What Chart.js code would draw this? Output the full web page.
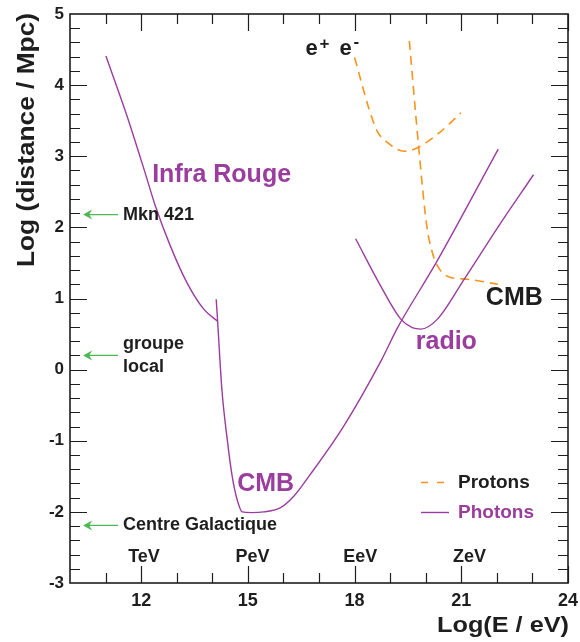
<!DOCTYPE html>
<html>
<head>
<meta charset="utf-8">
<script src="https://cdn.jsdelivr.net/npm/chart.js@4.4.1/dist/chart.umd.min.js"></script>
<style>
  html, body { margin: 0; padding: 0; background: #fff; }
  canvas { display: block; }
</style>
</head>
<body>
<canvas id="horizon" width="580" height="642"></canvas>
<script>
// Log(E/eV) on x, Log(distance/Mpc) on y
const xTicks = [12, 15, 18, 21, 24];
const energyUnits = ['TeV', 'PeV', 'EeV', 'ZeV'];
const energyUnitPos = [12.08, 15.13, 18.16, 21.23];

// photons on the infra-red background
const irX = [11.01, 11.60, 12.11, 12.40, 12.82, 13.29, 13.76, 14.15];
const irY = [4.41, 3.57, 2.77, 2.30, 1.74, 1.22, 0.85, 0.68];

// photons on the CMB
const cmbX = [14.11, 14.15, 14.27, 14.42, 14.56, 14.70, 14.84, 15.10, 15.45, 15.92, 16.29, 16.76, 17.70, 18.74, 19.21, 20.29, 22.04];
const cmbY = [0.99, 0.68, -0.28, -0.98, -1.50, -1.83, -2.00, -2.01, -2.00, -1.94, -1.78, -1.47, -0.79, 0.12, 0.59, 1.50, 3.10];

// photons on the radio background
const radioX = [18.03, 18.74, 19.30, 19.62, 19.86, 20.33, 21.08, 22.00, 23.03];
const radioY = [1.84, 1.17, 0.71, 0.59, 0.57, 0.71, 1.27, 1.98, 2.74];

// protons: pair production (e+ e-)
const pairX = [18.00, 18.17, 18.41, 18.64, 18.93, 19.39, 19.77, 20.43, 20.99];
const pairY = [4.39, 4.08, 3.66, 3.35, 3.19, 3.07, 3.12, 3.35, 3.61];

// protons: pion production on the CMB
const gzkX = [19.54, 19.80, 20.03, 20.19, 20.33, 20.62, 21.18, 22.03];
const gzkY = [4.62, 3.14, 2.02, 1.64, 1.46, 1.31, 1.27, 1.20];

// sources marked by arrows on the left
const sourceNames = [['Mkn 421'], ['groupe', 'local'], ['Centre Galactique']];
const sourceDist = [2.18, 0.20, -2.19];

const PURPLE = '#9a3d9e';
const ORANGE = '#f7941d';
const GREEN = '#4cb851';
const INK = '#1e1e1e';
const FONT = '"Liberation Sans", Arial, sans-serif';

function pts(xs, ys) {
  return xs.map((x, i) => ({ x: x, y: ys[i] }));
}

function photonSet(xs, ys) {
  return {
    data: pts(xs, ys),
    showLine: true,
    borderColor: PURPLE,
    borderWidth: 1.4,
    pointRadius: 0,
    cubicInterpolationMode: 'monotone'
  };
}

function protonSet(xs, ys) {
  return {
    data: pts(xs, ys),
    showLine: true,
    borderColor: ORANGE,
    borderWidth: 1.6,
    borderDash: [9, 6],
    pointRadius: 0,
    cubicInterpolationMode: 'monotone'
  };
}

function label(ctx, text, x, y, size, color, align) {
  ctx.font = 'bold ' + size + 'px ' + FONT;
  ctx.fillStyle = color;
  ctx.textAlign = align || 'left';
  ctx.textBaseline = 'middle';
  ctx.fillText(text, x, y);
}

// bold text squeezed or stretched along its baseline to a given length
function stretched(ctx, text, size, length) {
  ctx.font = 'bold ' + size + 'px ' + FONT;
  const w = ctx.measureText(text).width;
  ctx.scale(length / w, 1);
  ctx.fillStyle = INK;
  ctx.textAlign = 'right';
  ctx.textBaseline = 'middle';
  ctx.fillText(text, 0, 0);
}

// frame with inward ticks, annotations, arrows, legend and axis titles
const decorations = {
  id: 'decorations',
  afterDraw(chart) {
    const ctx = chart.ctx;
    const xs = chart.scales.x, ys = chart.scales.y;
    const a = chart.chartArea;
    ctx.save();

    ctx.strokeStyle = INK;
    ctx.lineWidth = 1.2;
    ctx.beginPath();
    for (let v = 11; v <= 24; v++) {
      const px = Math.round(xs.getPixelForValue(v)) + 0.5;
      const len = v % 3 === 0 ? 17 : 10;
      ctx.moveTo(px, a.bottom); ctx.lineTo(px, a.bottom - len);
      ctx.moveTo(px, a.top); ctx.lineTo(px, a.top + len);
    }
    for (let i = 1; i < 40; i++) {
      const v = -3 + i * 0.2;
      const py = Math.round(ys.getPixelForValue(v)) + 0.5;
      const len = i % 5 === 0 ? 17 : 10;
      ctx.moveTo(a.left, py); ctx.lineTo(a.left + len, py);
      ctx.moveTo(a.right, py); ctx.lineTo(a.right - len, py);
    }
    ctx.stroke();

    ctx.lineWidth = 1.6;
    ctx.strokeRect(a.left, a.top, a.right - a.left, a.bottom - a.top);

    // energy units above the axis
    energyUnits.forEach((u, i) => {
      label(ctx, u, xs.getPixelForValue(energyUnitPos[i]), ys.getPixelForValue(-2.63), 18, INK, 'center');
    });

    // arrows and source names
    const tipX = xs.getPixelForValue(10.37), tailX = xs.getPixelForValue(11.35);
    const textX = xs.getPixelForValue(11.49);
    sourceNames.forEach((lines, i) => {
      const py = ys.getPixelForValue(sourceDist[i]);
      ctx.strokeStyle = GREEN;
      ctx.fillStyle = GREEN;
      ctx.lineWidth = 1.3;
      ctx.beginPath();
      ctx.moveTo(tipX + 2, py); ctx.lineTo(tailX, py);
      ctx.stroke();
      ctx.beginPath();
      ctx.moveTo(tipX, py);
      ctx.lineTo(tipX + 9, py - 5);
      ctx.lineTo(tipX + 6, py);
      ctx.lineTo(tipX + 9, py + 5);
      ctx.closePath();
      ctx.fill();
      const lh = 23;
      lines.forEach((t, j) => {
        label(ctx, t, textX, py + (j - (lines.length - 1) / 2) * lh, 18, INK);
      });
    });

    label(ctx, 'Infra Rouge', xs.getPixelForValue(12.31), ys.getPixelForValue(2.74), 25, PURPLE);
    label(ctx, 'CMB', xs.getPixelForValue(14.70), ys.getPixelForValue(-1.61), 25, PURPLE);
    label(ctx, 'radio', xs.getPixelForValue(19.72), ys.getPixelForValue(0.39), 25, PURPLE);
    label(ctx, 'CMB', xs.getPixelForValue(21.69), ys.getPixelForValue(1.01), 25, INK);

    // e+ e- with raised signs
    const ex = xs.getPixelForValue(16.62), ey = ys.getPixelForValue(4.42);
    ctx.textBaseline = 'alphabetic';
    ctx.textAlign = 'left';
    ctx.fillStyle = INK;
    ctx.font = 'bold 22px ' + FONT;
    ctx.fillText('e', ex, ey);
    ctx.fillText('e', ex + 34, ey);
    ctx.font = 'bold 17px ' + FONT;
    ctx.fillText('+', ex + 14, ey - 6);
    ctx.fillText('-', ex + 48, ey - 8);

    // legend
    const lgX = 421, lgX2 = 448;
    ctx.strokeStyle = ORANGE;
    ctx.lineWidth = 1.6;
    ctx.setLineDash([7, 9]);
    ctx.beginPath(); ctx.moveTo(lgX, 482.5); ctx.lineTo(lgX2, 482.5); ctx.stroke();
    ctx.setLineDash([]);
    ctx.strokeStyle = PURPLE;
    ctx.lineWidth = 1.4;
    ctx.beginPath(); ctx.moveTo(lgX, 512.5); ctx.lineTo(lgX2 + 1, 512.5); ctx.stroke();
    label(ctx, 'Protons', 458, 482.5, 19, INK);
    label(ctx, 'Photons', 458, 512.5, 19, PURPLE);

    // axis titles
    ctx.save();
    ctx.translate(a.right + 1, 626);
    stretched(ctx, 'Log(E / eV)', 22, 132);
    ctx.restore();
    ctx.save();
    ctx.translate(28, a.top - 1);
    ctx.rotate(-Math.PI / 2);
    stretched(ctx, 'Log (distance / Mpc)', 23, 254);
    ctx.restore();

    ctx.restore();
  }
};

const horizon = new Chart(document.getElementById('horizon'), {
  type: 'scatter',
  data: {
    datasets: [
      photonSet(irX, irY),
      photonSet(cmbX, cmbY),
      photonSet(radioX, radioY),
      protonSet(pairX, pairY),
      protonSet(gzkX, gzkY)
    ]
  },
  options: {
    responsive: false,
    animation: false,
    layout: { padding: { top: 14, right: 12, left: 0, bottom: 0 } },
    plugins: {
      legend: { display: false },
      tooltip: { enabled: false }
    },
    scales: {
      x: {
        type: 'linear',
        min: 10,
        max: 24,
        afterBuildTicks(scale) { scale.ticks = xTicks.map(v => ({ value: v })); },
        afterFit(scale) {
          scale.height = 59;
          scale.paddingLeft = 0;
          scale.paddingRight = 0;
        },
        grid: { display: false, drawTicks: false },
        border: { display: false },
        ticks: {
          autoSkip: false,
          maxRotation: 0,
          padding: 7,
          color: INK,
          font: { family: FONT, size: 18, weight: 'bold' }
        }
      },
      y: {
        type: 'linear',
        min: -3,
        max: 5,
        afterFit(scale) {
          scale.width = 70;
          scale.paddingTop = 0;
          scale.paddingBottom = 0;
        },
        grid: { display: false, drawTicks: false },
        border: { display: false },
        ticks: {
          stepSize: 1,
          padding: 6,
          color: INK,
          font: { family: FONT, size: 17, weight: 'bold' }
        }
      }
    }
  },
  plugins: [decorations]
});
</script>
</body>
</html>
